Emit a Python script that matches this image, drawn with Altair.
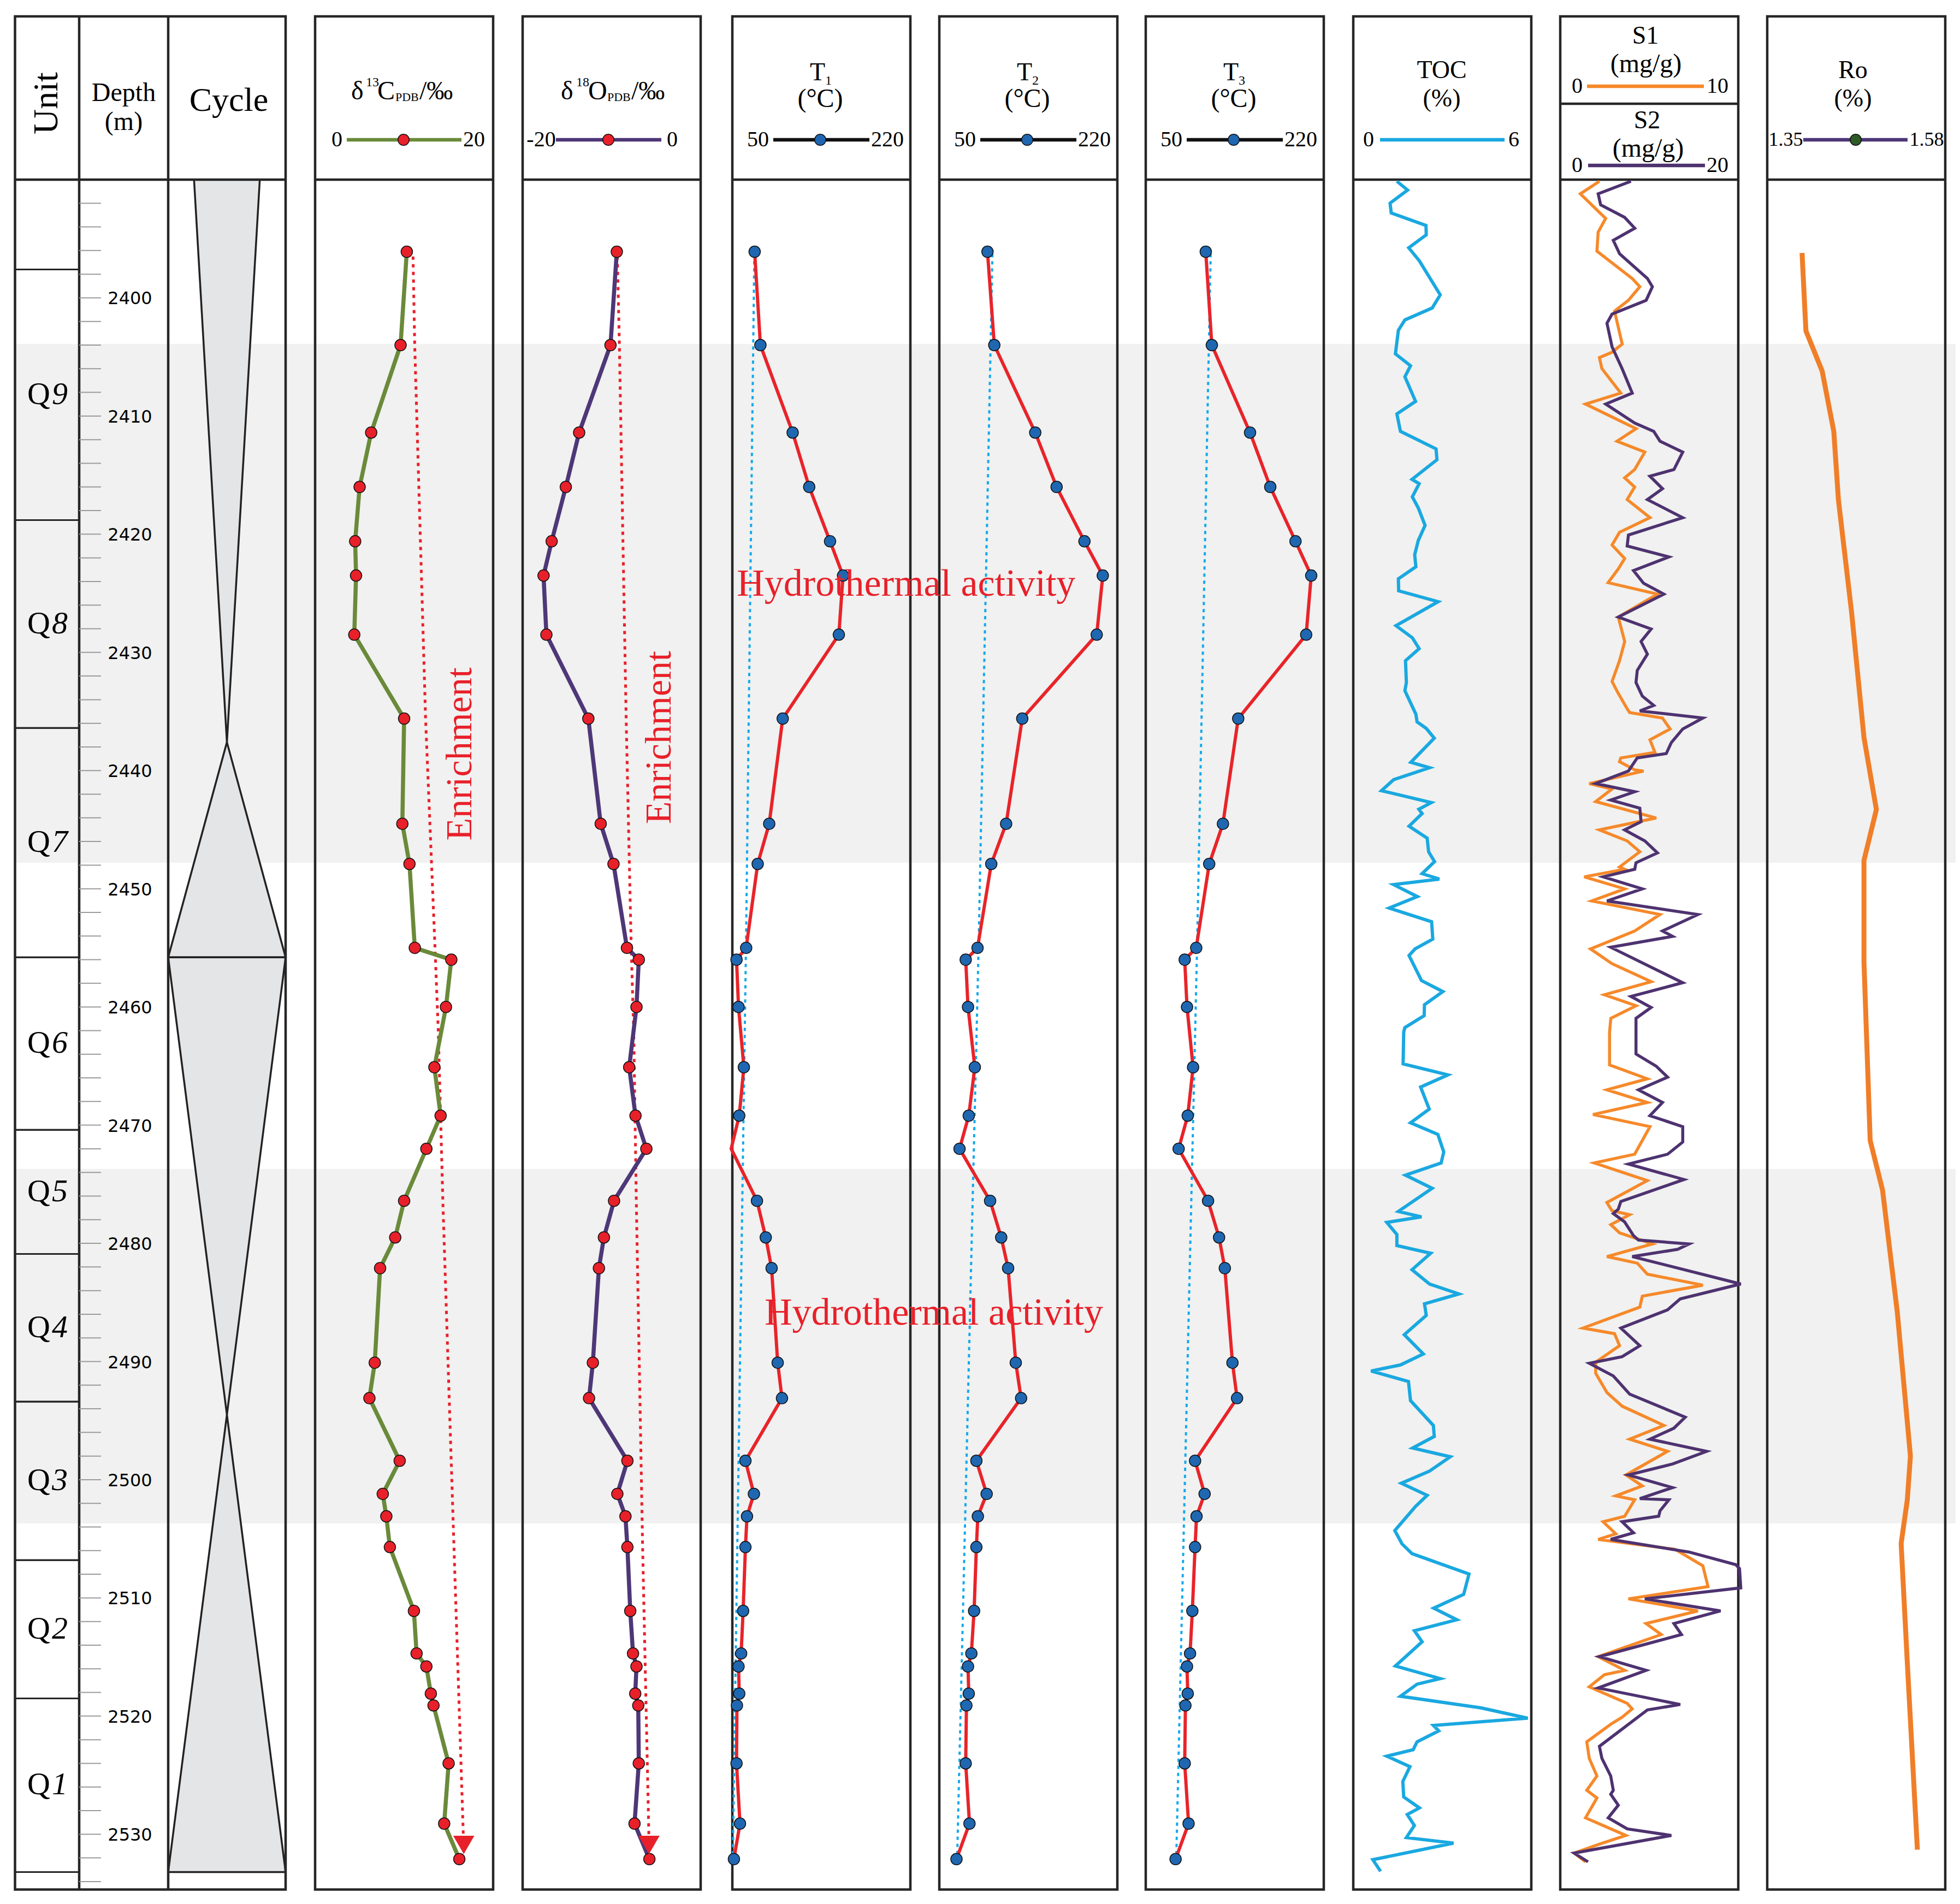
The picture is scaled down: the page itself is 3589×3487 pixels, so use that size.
import altair as alt
import pandas as pd

# ---------------------------------------------------------------- data
SAMPLE_DEPTH = [2396.1, 2404.0, 2411.4, 2416.0, 2420.6, 2423.5, 2428.5, 2435.6, 2444.5, 2447.9,
                2455.0, 2456.0, 2460.0, 2465.1, 2469.2, 2472.0, 2476.4, 2479.5, 2482.1, 2490.1,
                2493.1, 2498.4, 2501.2, 2503.1, 2505.7, 2511.1, 2514.7, 2515.8, 2518.1, 2519.1,
                2524.0, 2529.1, 2532.1]
D13C = [10.3, 9.6, 6.3, 5.0, 4.5, 4.6, 4.4, 10.0, 9.8, 10.6, 11.2, 15.3, 14.7, 13.4, 14.1, 12.5,
        10.0, 9.0, 7.3, 6.7, 6.1, 9.5, 7.6, 8.0, 8.4, 11.1, 11.4, 12.5, 13.0, 13.3, 15.0, 14.5, 16.2]
D18O = [-9.42, -10.13, -13.65, -15.15, -16.74, -17.65, -17.33, -12.62, -11.23, -9.79, -8.28, -6.95,
        -7.21, -8.03, -7.32, -6.10, -9.73, -10.87, -11.43, -12.11, -12.54, -8.23, -9.36, -8.45, -8.23,
        -7.91, -7.60, -7.21, -7.35, -7.01, -6.95, -7.43, -5.76]
T1 = [71.3, 76.8, 107.6, 123.4, 143.3, 155.7, 151.7, 98.1, 85.2, 74.2, 63.2, 54.0, 55.9, 61.0, 56.6,
      48.9, 73.5, 81.9, 87.5, 93.3, 97.4, 62.5, 70.6, 64.0, 62.5, 60.3, 58.4, 55.9, 56.6, 54.4, 54.0,
      57.3, 51.5]
T2 = [96.0, 102.5, 141.6, 162.0, 188.6, 206.1, 200.3, 129.2, 113.8, 99.6, 86.5, 75.2, 77.4, 83.9, 78.1,
      69.3, 98.5, 109.1, 115.7, 123.0, 128.1, 85.4, 95.2, 86.8, 85.4, 83.2, 80.6, 77.4, 78.1, 75.9, 75.2,
      78.8, 66.4]
T3 = [107.3, 113.1, 149.6, 168.9, 193.0, 208.0, 203.2, 138.3, 123.7, 110.6, 98.2, 87.2, 89.4, 95.2,
      90.1, 81.4, 109.5, 120.0, 125.5, 132.8, 137.2, 97.1, 106.2, 98.5, 97.1, 94.5, 92.3, 89.4, 90.1,
      87.9, 87.2, 90.9, 78.5]

TREND_DEPTH = [2396.5, 2404.0, 2435.6, 2455.0, 2462.1, 2476.4, 2505.7, 2530.1]
C13_TREND = [11.0, 11.19, 12.41, 13.47, 13.84, 14.35, 15.60, 16.65]
O18_TREND = [-9.36, -9.13, -8.37, -7.80, -7.52, -7.23, -6.52, -5.82]
ARROW_DEPTH = [2530.9]
C13_ARROW = [16.7]
O18_ARROW = [-5.8]

TREF_DEPTH = [2396.3, 2455.0, 2531.8]
T1_REF = [71.0, 63.0, 50.5]
T2_REF = [100.7, 87.5, 67.1]
T3_REF = [112.0, 99.0, 79.2]

TOC_DEPTH_UPPER = [2390.14, 2390.88, 2391.99, 2392.82, 2393.88, 2394.67, 2395.77, 2396.88, 2399.75, 2400.86,
                   2401.87, 2402.75, 2404.74, 2405.75, 2406.68, 2408.76, 2409.82, 2411.30, 2412.78, 2413.70,
                   2415.36, 2415.73, 2416.84, 2417.77, 2419.25, 2420.54, 2421.74, 2422.76, 2423.77, 2424.79,
                   2425.71, 2427.74, 2428.76, 2429.68, 2430.70, 2432.55, 2433.24, 2435.23, 2435.88, 2436.43,
                   2437.26, 2439.30, 2439.76, 2440.77, 2441.70, 2442.71, 2443.27, 2443.64, 2444.70, 2445.72,
                   2446.87, 2447.70, 2448.72, 2449.18, 2449.65, 2450.66, 2451.63, 2452.79, 2454.26, 2455.09,
                   2455.65, 2457.77, 2458.70, 2459.81, 2460.73, 2461.75]
TOC_UPPER = [1.47, 1.83, 1.24, 1.28, 2.45, 2.46, 1.87, 2.23, 2.93, 2.66,
             1.74, 1.52, 1.42, 1.93, 1.74, 2.10, 1.47, 1.59, 2.79, 2.82,
             1.98, 2.22, 1.99, 2.19, 2.42, 2.19, 2.07, 2.11, 1.52, 1.53,
             2.86, 1.44, 1.99, 2.22, 1.76, 1.79, 1.74, 2.11, 2.15, 2.46,
             2.73, 1.94, 2.57, 1.36, 0.95, 2.63, 2.21, 2.32, 1.88, 2.49,
             2.54, 2.74, 2.32, 2.90, 1.36, 2.16, 1.21, 2.64, 2.68, 2.08,
             1.88, 2.30, 3.02, 2.40, 2.39, 1.74]
TOC_DEPTH_LOWER = [2462.12, 2464.82, 2465.75, 2466.78, 2468.64, 2469.80, 2470.78, 2472.27, 2473.20, 2474.23,
                   2475.34, 2477.30, 2477.76, 2478.23, 2479.25, 2480.19, 2480.84, 2482.23, 2483.44, 2484.28,
                   2485.12, 2486.10, 2487.73, 2489.36, 2490.29, 2490.80, 2491.69, 2493.31, 2495.41, 2496.34,
                   2497.32, 2498.06, 2499.27, 2500.30, 2501.32, 2502.26, 2504.30, 2505.42, 2506.26, 2507.98,
                   2509.70, 2510.87, 2511.85, 2512.78, 2513.71, 2515.76, 2516.83, 2517.30, 2518.32, 2519.30,
                   2520.18, 2520.79, 2521.25, 2522.18, 2522.84, 2523.39, 2524.28, 2525.53, 2526.84, 2527.77,
                   2528.33, 2529.26, 2530.28, 2530.75, 2532.15, 2533.13]
TOC_LOWER = [1.70, 1.68, 3.19, 2.27, 2.56, 1.93, 2.85, 3.05, 2.96, 1.76,
             2.66, 1.52, 2.30, 1.13, 1.47, 1.47, 2.61, 1.98, 2.57, 3.56,
             2.40, 2.46, 1.72, 2.36, 1.59, 0.60, 1.86, 1.93, 2.70, 2.73,
             2.00, 3.27, 2.57, 1.62, 2.49, 2.10, 1.40, 1.64, 1.98, 3.90,
             3.72, 2.71, 3.49, 2.06, 2.32, 1.42, 2.93, 2.15, 1.59, 4.30,
             5.88, 2.70, 2.88, 2.15, 2.02, 1.13, 1.91, 1.67, 1.70, 2.23,
             1.82, 2.06, 1.79, 3.38, 0.66, 0.92]

S1_DEPTH_UPPER = [2390.14, 2391.20, 2393.28, 2394.44, 2396.05, 2398.36, 2399.06, 2400.21, 2401.13, 2403.91,
                  2404.60, 2405.06, 2405.99, 2408.06, 2408.99, 2411.07, 2412.13, 2413.05, 2414.53, 2415.23,
                  2416.01, 2417.07, 2418.60, 2419.84, 2420.91, 2422.06, 2422.94, 2424.10, 2425.07, 2427.01,
                  2429.08, 2430.70, 2432.46, 2433.47, 2434.77, 2435.09, 2435.55, 2436.48, 2437.40, 2438.46,
                  2438.93, 2439.25, 2439.94, 2440.04, 2441.10, 2441.56, 2442.62, 2444.01, 2445.02, 2445.95,
                  2446.87, 2448.16, 2448.35, 2448.99, 2450.01, 2451.03, 2452.18, 2453.57, 2455.09, 2456.34,
                  2457.86, 2458.97, 2459.90, 2460.96]
S1_UPPER = [2.20, 1.13, 2.55, 2.13, 2.06, 4.04, 4.47, 3.83, 3.05, 3.48,
            2.91, 2.20, 2.34, 3.40, 1.42, 4.26, 3.19, 4.75, 4.18, 3.62,
            4.18, 3.76, 5.04, 3.33, 2.91, 3.62, 3.26, 2.69, 5.46, 3.26,
            3.62, 3.33, 2.91, 3.26, 3.76, 3.90, 5.74, 6.17, 5.04, 5.32,
            3.40, 3.33, 4.18, 4.68, 1.63, 2.91, 1.99, 5.39, 2.20, 3.76,
            4.47, 3.33, 3.62, 1.35, 3.62, 1.77, 5.60, 4.18, 1.70, 2.91,
            5.11, 2.48, 4.26, 2.84]
S1_DEPTH_LOWER = [2462.12, 2464.91, 2466.08, 2467.01, 2468.08, 2469.10, 2470.13, 2472.46, 2473.20, 2474.69,
                  2476.55, 2477.25, 2477.58, 2478.42, 2479.11, 2480.05, 2481.12, 2481.68, 2482.61, 2483.54,
                  2484.47, 2485.40, 2487.17, 2487.64, 2488.66, 2490.06, 2490.99, 2492.62, 2493.78, 2495.41,
                  2496.57, 2497.60, 2499.60, 2500.53, 2501.37, 2501.70, 2503.09, 2503.56, 2504.58, 2505.05,
                  2505.89, 2507.28, 2509.05, 2510.08, 2511.10, 2512.17, 2513.10, 2514.97, 2516.13, 2516.50,
                  2517.53, 2518.92, 2519.39, 2520.09, 2520.69, 2522.18, 2523.58, 2525.07, 2526.28, 2526.93,
                  2528.61, 2530.10, 2530.80, 2531.59, 2532.33]
S1_LOWER = [2.77, 2.77, 4.89, 2.62, 4.89, 1.84, 5.04, 4.18, 1.91, 4.89,
            2.62, 2.91, 3.90, 2.84, 3.33, 5.18, 2.62, 4.33, 4.89, 8.01,
            4.61, 4.47, 1.28, 3.05, 3.33, 1.99, 1.99, 2.62, 3.48, 5.82,
            3.90, 6.03, 3.69, 4.61, 3.12, 4.18, 3.62, 2.41, 3.12, 2.13,
            6.45, 8.01, 8.30, 3.83, 7.73, 4.82, 5.67, 2.13, 3.62, 2.48,
            1.63, 3.76, 4.04, 3.48, 2.84, 1.49, 1.63, 2.06, 1.49, 2.06,
            1.42, 3.69, 2.27, 0.78, 1.42]

S2_DEPTH_UPPER = [2390.14, 2391.20, 2392.13, 2393.19, 2394.11, 2395.13, 2396.28, 2398.36, 2399.06, 2400.21,
                  2401.37, 2402.15, 2404.14, 2405.99, 2408.06, 2408.99, 2410.60, 2411.30, 2412.13, 2413.05,
                  2414.53, 2415.09, 2416.15, 2417.07, 2418.60, 2420.07, 2421.00, 2421.92, 2423.08, 2424.15,
                  2425.07, 2427.01, 2428.02, 2429.08, 2430.15, 2431.53, 2432.55, 2433.70, 2434.49, 2434.95,
                  2435.55, 2436.48, 2437.63, 2438.56, 2438.93, 2440.04, 2441.10, 2441.79, 2442.49, 2443.18,
                  2444.33, 2445.02, 2445.95, 2446.96, 2447.80, 2448.35, 2448.99, 2450.01, 2451.03, 2452.18,
                  2453.57, 2454.03, 2454.95, 2457.95, 2459.11, 2460.04, 2460.96]
S2_UPPER = [7.94, 4.26, 4.54, 7.23, 8.37, 5.96, 6.67, 9.79, 10.35, 9.65,
            5.82, 5.25, 5.82, 6.95, 8.09, 5.11, 8.37, 10.50, 11.21, 13.76,
            12.77, 10.07, 11.49, 9.79, 13.76, 7.66, 7.52, 12.20, 8.23, 9.36,
            11.63, 6.52, 10.21, 9.08, 9.79, 8.65, 8.51, 9.22, 10.50, 8.94,
            16.03, 13.76, 12.48, 11.91, 8.65, 7.66, 3.97, 8.37, 5.67, 8.94,
            9.08, 7.23, 9.50, 10.92, 8.51, 8.37, 4.82, 9.22, 5.25, 15.46,
            11.49, 12.62, 5.67, 13.76, 7.94, 10.21, 8.51]
S2_DEPTH_LOWER = [2462.12, 2463.98, 2465.01, 2465.94, 2467.01, 2468.08, 2469.20, 2470.13, 2471.43, 2472.46,
                  2473.29, 2474.60, 2476.46, 2477.11, 2477.48, 2478.18, 2479.35, 2479.72, 2480.05, 2480.51,
                  2481.12, 2483.44, 2484.70, 2485.63, 2487.17, 2488.66, 2489.59, 2490.15, 2491.22, 2492.76,
                  2494.71, 2495.64, 2496.57, 2497.60, 2498.67, 2499.60, 2500.67, 2501.60, 2501.70, 2502.63,
                  2503.09, 2503.56, 2504.49, 2505.05, 2506.12, 2507.19, 2507.52, 2509.15, 2510.08, 2511.10,
                  2512.17, 2513.10, 2514.97, 2516.13, 2517.62, 2519.02, 2519.48, 2522.56, 2523.58, 2525.07,
                  2526.28, 2526.61, 2527.54, 2528.61, 2529.54, 2530.10, 2531.59, 2532.33]
S2_LOWER = [8.51, 8.51, 10.78, 12.06, 8.79, 11.49, 10.07, 13.76, 13.76, 12.06,
            7.66, 13.90, 6.81, 6.52, 5.96, 7.23, 8.23, 8.79, 14.47, 13.19,
            8.09, 20.28, 13.48, 12.06, 6.81, 8.94, 6.95, 3.26, 5.96, 7.80,
            14.04, 12.77, 10.07, 16.45, 12.62, 7.66, 12.62, 8.94, 12.20, 11.21,
            11.06, 6.95, 8.23, 5.67, 14.47, 19.72, 20.14, 20.28, 9.50, 18.01,
            12.77, 13.62, 4.40, 9.65, 4.26, 13.48, 9.79, 4.40, 4.68, 5.67,
            5.96, 5.67, 6.52, 5.39, 7.52, 12.48, 1.56, 3.12]

RO_DEPTH = [2396.2, 2402.8, 2406.2, 2411.3, 2417.1, 2426.6, 2437.2, 2443.3, 2447.6, 2456.2,
            2471.3, 2475.5, 2485.8, 2498.0, 2501.7, 2505.4, 2515.5, 2531.3]
RO = [1.395, 1.400, 1.421, 1.436, 1.442, 1.459, 1.475, 1.491, 1.475, 1.475,
      1.483, 1.499, 1.518, 1.535, 1.531, 1.523, 1.531, 1.544]

UNIT_NUM = ['9', '8', '7', '6', '5', '4', '3', '2', '1']
UNIT_TOP = [2397.6, 2418.8, 2436.4, 2455.8, 2470.4, 2480.9, 2493.4, 2506.8, 2518.5]
UNIT_BOTTOM = [2418.8, 2436.4, 2455.8, 2470.4, 2480.9, 2493.4, 2506.8, 2518.5, 2533.2]
BAND_TOP = [2403.9, 2473.7]
BAND_BOTTOM = [2447.8, 2503.7]

CYCLE_ID = ['a', 'a', 'b', 'b', 'c', 'c', 'd', 'd']
CYCLE_DEPTH = [2390.0, 2437.6, 2437.6, 2455.8, 2455.8, 2494.5, 2494.5, 2533.2]
CYCLE_LEFT = [0.22, 0.5, 0.5, 0.0, 0.0, 0.5, 0.5, 0.0]
CYCLE_RIGHT = [0.78, 0.5, 0.5, 1.0, 1.0, 0.5, 0.5, 1.0]

DEPTH_LABELS = list(range(2400, 2531, 10))
DEPTH_TICKS = list(range(2392, 2535, 2))

ENRICH_DEPTH = [2438.6, 2437.2]
ENRICH_X = [16.3, -4.6]
HYDRO_DEPTH = [2425.2, 2486.9]
HYDRO_X = [216.0, 242.4]

# ---------------------------------------------------------------- styling / layout
SERIF = "Liberation Serif"
SANS = "DejaVu Sans"
EDGE = "#262626"
BAND = "#f0f1f0"
RED = "#e8202a"
OLIVE = "#6a8a3a"
PURPLE = "#4e3777"
TRED = "#e8242a"
BLUE_PT = "#1f67b1"
SKY = "#1aa8e0"
ORANGE = "#f6892a"
S2C = "#4e3270"
RO_C = "#f07e28"

W, H = 3573, 3470
TOP, HB, BOT = 22, 321, 3452.6
DOM = [2390, 2534.68]
PW = 326
PX = {"c13": 569, "o18": 949, "t1": 1333, "t2": 1712, "t3": 2090, "toc": 2470, "s": 2849, "ro": 3228}
UX0, UX1, DX1, CX1 = 19.5, 137, 300, 515

ONE = pd.DataFrame({"k": [0]})
layers = []


def Yd(field):
    return alt.Y(f"{field}:Q", scale=alt.Scale(domain=DOM, range=[HB, BOT]), axis=None)


def Xs(field, dom, px0):
    return alt.X(f"{field}:Q", scale=alt.Scale(domain=dom, range=[px0, px0 + PW]), axis=None)


def rule_h(x1, x2, y, color=EDGE, w=4.5):
    return alt.Chart(ONE).mark_rule(color=color, strokeWidth=w).encode(
        x=alt.value(x1), x2=alt.value(x2), y=alt.value(y))


def rule_v(x, y1, y2, color=EDGE, w=4.5):
    return alt.Chart(ONE).mark_rule(color=color, strokeWidth=w).encode(
        x=alt.value(x), y=alt.value(y1), y2=alt.value(y2))


def box(x1, x2, y1, y2, w=4.5):
    return alt.Chart(ONE).mark_rect(fillOpacity=0, stroke=EDGE, strokeWidth=w).encode(
        x=alt.value(x1), x2=alt.value(x2), y=alt.value(y1), y2=alt.value(y2))


def txt(s, x, y, size, align="center", baseline="alphabetic", color="black", font=SERIF, angle=0, style="normal"):
    kw = dict(text=s, font=font, fontSize=size, align=align, baseline=baseline, color=color, fontStyle=style)
    if angle:
        kw["angle"] = angle
    return alt.Chart(ONE).mark_text(**kw).encode(x=alt.value(x), y=alt.value(y))


def dot(x, y, color, size=420):
    return alt.Chart(ONE).mark_circle(color=color, size=size, opacity=1, stroke="#111", strokeWidth=1.5).encode(
        x=alt.value(x), y=alt.value(y))


def legend(px0, y, lo, hi, lo_x, hi_x, l1, l2, color, dotcolor=None, dotx=None, size=40, w=6.5):
    out = [rule_h(px0 + l1, px0 + l2, y, color, w),
           txt(lo, px0 + lo_x, y, size, baseline="middle"),
           txt(hi, px0 + hi_x, y, size, baseline="middle")]
    if dotcolor:
        out.append(dot(px0 + dotx, y, dotcolor))
    return out


# ---------------------------------------------------------------- background bands
band_df = pd.DataFrame({"top": BAND_TOP, "bot": BAND_BOTTOM})
layers.append(alt.Chart(band_df).mark_rect(color=BAND).encode(
    x=alt.value(UX0), x2=alt.value(W), y=Yd("top"), y2=alt.Y2("bot:Q")))

# ---------------------------------------------------------------- cycle column
cyc = pd.DataFrame({"id": CYCLE_ID, "depth": CYCLE_DEPTH, "l": CYCLE_LEFT, "r": CYCLE_RIGHT})
layers.append(alt.Chart(cyc).mark_area(orient="horizontal", color="#e4e5e7", stroke="#222",
                                       strokeWidth=3.5, opacity=1).encode(
    y=Yd("depth"),
    x=alt.X("l:Q", scale=alt.Scale(domain=[0, 1], range=[DX1, CX1]), axis=None),
    x2=alt.X2("r:Q"),
    detail="id:N"))

# ---------------------------------------------------------------- left block frame
layers += [box(UX0, CX1, TOP, BOT), rule_v(UX1, TOP, BOT), rule_v(DX1, TOP, BOT), rule_h(UX0, CX1, HB)]
unit_df = pd.DataFrame({"top": UNIT_TOP, "bot": UNIT_BOTTOM, "num": UNIT_NUM,
                        "mid": [(a + b) / 2 for a, b in zip(UNIT_TOP, UNIT_BOTTOM)]})
layers.append(alt.Chart(unit_df).mark_rule(color=EDGE, strokeWidth=3).encode(
    x=alt.value(UX0), x2=alt.value(UX1), y=Yd("top")))
layers.append(alt.Chart(unit_df).mark_rule(color=EDGE, strokeWidth=3).encode(
    x=alt.value(UX0), x2=alt.value(UX1), y=Yd("bot")))
layers.append(alt.Chart(unit_df).mark_text(text="Q", font=SERIF, fontSize=58, align="right",
                                           baseline="middle").encode(x=alt.value(84), y=Yd("mid")))
layers.append(alt.Chart(unit_df).mark_text(font=SERIF, fontSize=58, align="left", baseline="middle",
                                           fontStyle="italic").encode(x=alt.value(87), y=Yd("mid"),
                                                                      text="num:N"))
tick_df = pd.DataFrame({"d": DEPTH_TICKS})
layers.append(alt.Chart(tick_df).mark_rule(color="#9b9b9b", strokeWidth=2).encode(
    x=alt.value(UX1), x2=alt.value(UX1 + 40), y=Yd("d")))
lab_df = pd.DataFrame({"d": DEPTH_LABELS})
layers.append(alt.Chart(lab_df).mark_text(font=SANS, fontSize=32, baseline="middle", align="center", dy=2).encode(
    x=alt.value(230), y=Yd("d"), text="d:Q"))

layers += [txt("Unit", (UX0 + UX1) / 2, 181, 64, baseline="middle", angle=270),
           txt("Depth", 218.5, 177, 48), txt("(m)", 218.5, 230, 48),
           txt("Cycle", 411, 195, 62)]

# ---------------------------------------------------------------- panel frames
for key, px0 in PX.items():
    layers += [box(px0, px0 + PW, TOP, BOT), rule_h(px0, px0 + PW, HB)]
layers.append(rule_h(PX["s"], PX["s"] + PW, 182))

# ---------------------------------------------------------------- headers
def delta_header(px0, sup, elem, offs):
    return [txt("δ", px0 + offs[0], 174, 48, align="left"),
            txt(sup, px0 + offs[1], 150, 24, align="left"),
            txt(elem, px0 + offs[2], 174, 48, align="left"),
            txt("PDB", px0 + offs[3], 177, 22, align="left"),
            txt("/‰", px0 + offs[4], 174, 48, align="left")]


layers += delta_header(PX["c13"], "13", "C", (66, 93, 114, 147, 191))
layers += legend(PX["c13"], 248, "0", "20", 40, 291, 58, 268, OLIVE, RED, 162)
layers += delta_header(PX["o18"], "18", "O", (70, 98, 120, 155, 199))
layers += legend(PX["o18"], 248, "-20", "0", 34, 274, 61, 254, PURPLE, RED, 157)

for key, sub in (("t1", "1"), ("t2", "2"), ("t3", "3")):
    p = PX[key]
    layers += [txt("T", p + 156, 139, 46), txt(sub, p + 170, 147, 24, align="left"),
               txt("(°C)", p + 161, 188, 48)]
    layers += legend(p, 248, "50", "220", 47, 284, 75, 251, "#111", BLUE_PT, 161)

p = PX["toc"]
layers += [txt("TOC", p + 162, 135, 46), txt("(%)", p + 162, 187, 46)]
layers += legend(p, 248, "0", "6", 28, 294, 49, 277, SKY)

p = PX["s"]
layers += [txt("S1", p + 156, 72, 46), txt("(mg/g)", p + 157, 124, 48),
           txt("S2", p + 159, 227, 46), txt("(mg/g)", p + 161, 279, 48)]
layers += legend(p, 150, "0", "10", 31, 288, 49, 263, ORANGE)
layers += legend(p, 295, "0", "20", 31, 288, 51, 265, S2C)

p = PX["ro"]
layers += [txt("Ro", p + 157, 135, 46), txt("(%)", p + 157, 187, 46)]
layers += legend(p, 248, "1.35", "1.58", 34, 292, 66, 257, PURPLE, "#2d5a27", 162, size=36)

# ---------------------------------------------------------------- isotope panels
iso = pd.DataFrame({"depth": SAMPLE_DEPTH, "c13": D13C, "o18": D18O, "t1": T1, "t2": T2, "t3": T3})
trend = pd.DataFrame({"depth": TREND_DEPTH, "c13": C13_TREND, "o18": O18_TREND})
arrow = pd.DataFrame({"depth": ARROW_DEPTH, "c13": C13_ARROW, "o18": O18_ARROW})
enrich = pd.DataFrame({"depth": ENRICH_DEPTH, "x": ENRICH_X})

for field, dom, col in (("c13", [0, 20], OLIVE), ("o18", [-20, 0], PURPLE)):
    px0 = PX[field]
    layers.append(alt.Chart(trend).mark_line(color=RED, strokeWidth=5, strokeDash=[6, 8]).encode(
        x=Xs(field, dom, px0), y=Yd("depth"), order="depth:Q"))
    layers.append(alt.Chart(iso).mark_line(color=col, strokeWidth=7.5).encode(
        x=Xs(field, dom, px0), y=Yd("depth"), order="depth:Q"))
    layers.append(alt.Chart(iso).mark_circle(color=RED, size=440, opacity=1, stroke="#111", strokeWidth=1.5).encode(
        x=Xs(field, dom, px0), y=Yd("depth")))
    layers.append(alt.Chart(arrow).mark_point(shape="triangle-down", filled=True, color=RED, size=1500,
                                              opacity=1).encode(x=Xs(field, dom, px0), y=Yd("depth")))

layers.append(alt.Chart(enrich.iloc[[0]]).mark_text(text="Enrichment", font=SERIF, fontSize=68, color=RED,
                                                    angle=270, align="center", baseline="middle").encode(
    x=Xs("x", [0, 20], PX["c13"]), y=Yd("depth")))
layers.append(alt.Chart(enrich.iloc[[1]]).mark_text(text="Enrichment", font=SERIF, fontSize=68, color=RED,
                                                    angle=270, align="center", baseline="middle").encode(
    x=Xs("x", [-20, 0], PX["o18"]), y=Yd("depth")))

# ---------------------------------------------------------------- temperature panels
tref = pd.DataFrame({"depth": TREF_DEPTH, "t1": T1_REF, "t2": T2_REF, "t3": T3_REF})
for field in ("t1", "t2", "t3"):
    px0 = PX[field]
    layers.append(alt.Chart(tref).mark_line(color="#14a9ea", strokeWidth=4, strokeDash=[6, 7]).encode(
        x=Xs(field, [50, 220], px0), y=Yd("depth"), order="depth:Q"))
    layers.append(alt.Chart(iso).mark_line(color=TRED, strokeWidth=6).encode(
        x=Xs(field, [50, 220], px0), y=Yd("depth"), order="depth:Q"))
    layers.append(alt.Chart(iso).transform_filter(f"datum.{field} >= 50").mark_circle(
        color=BLUE_PT, size=440, opacity=1, stroke="#111", strokeWidth=1.5).encode(
        x=Xs(field, [50, 220], px0), y=Yd("depth")))

hydro = pd.DataFrame({"depth": HYDRO_DEPTH, "x": HYDRO_X})
layers.append(alt.Chart(hydro).mark_text(text="Hydrothermal activity", font=SERIF, fontSize=70, color=RED,
                                         align="center", baseline="alphabetic").encode(
    x=Xs("x", [50, 220], PX["t1"]), y=Yd("depth")))

# ---------------------------------------------------------------- TOC, S1/S2, Ro
toc = pd.DataFrame({"depth": TOC_DEPTH_UPPER + TOC_DEPTH_LOWER, "v": TOC_UPPER + TOC_LOWER})
layers.append(alt.Chart(toc).mark_line(color=SKY, strokeWidth=6).encode(
    x=Xs("v", [0, 6], PX["toc"]), y=Yd("depth"), order="depth:Q"))

s1 = pd.DataFrame({"depth": S1_DEPTH_UPPER + S1_DEPTH_LOWER, "v": S1_UPPER + S1_LOWER})
s2 = pd.DataFrame({"depth": S2_DEPTH_UPPER + S2_DEPTH_LOWER, "v": S2_UPPER + S2_LOWER})
layers.append(alt.Chart(s1).mark_line(color=ORANGE, strokeWidth=5.5).encode(
    x=Xs("v", [0, 10], PX["s"]), y=Yd("depth"), order="depth:Q"))
layers.append(alt.Chart(s2).mark_line(color=S2C, strokeWidth=5.5).encode(
    x=Xs("v", [0, 20], PX["s"]), y=Yd("depth"), order="depth:Q"))

ro = pd.DataFrame({"depth": RO_DEPTH, "v": RO})
layers.append(alt.Chart(ro).mark_line(color=RO_C, strokeWidth=9).encode(
    x=Xs("v", [1.35, 1.58], PX["ro"]), y=Yd("depth"), order="depth:Q"))

chart = alt.layer(*layers).resolve_scale(x="independent").properties(
    width=W, height=H, padding=0, background="white").configure_view(stroke=None)

chart.save("out.html", embed_options={"renderer": "svg", "actions": False})
